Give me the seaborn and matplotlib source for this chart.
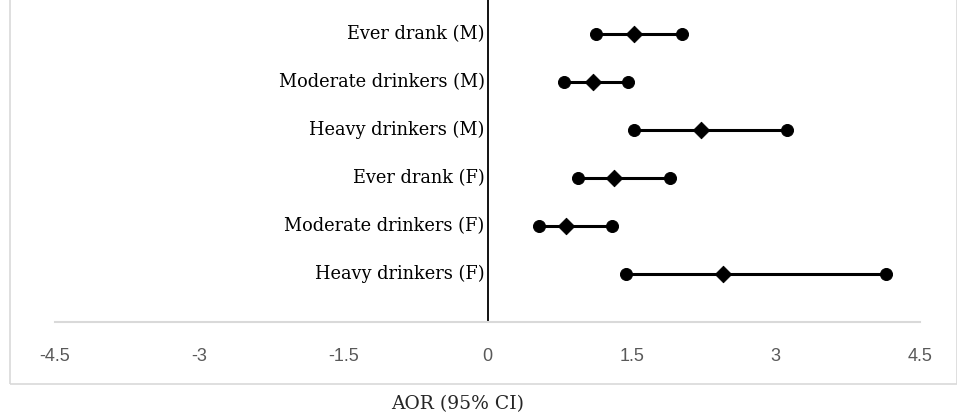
import pandas as pd
import matplotlib.pyplot as plt
import seaborn as sns
from matplotlib.patches import Rectangle

# Values
labels = ["Ever drank (M)", "Moderate drinkers (M)", "Heavy drinkers (M)",
          "Ever drank (F)", "Moderate drinkers (F)", "Heavy drinkers (F)"]
aor = [1.52, 1.10, 2.22, 1.32, 0.82, 2.45]
ci_low = [1.13, 0.80, 1.52, 0.94, 0.54, 1.44]
ci_high = [2.02, 1.46, 3.12, 1.90, 1.30, 4.15]
rows = [6, 5, 4, 3, 2, 1]
xticks = [-4.5, -3, -1.5, 0, 1.5, 3, 4.5]

sns.set_style("white")

# long table for lines and points
df = pd.DataFrame({"label": labels, "row": rows, "aor": aor, "low": ci_low, "high": ci_high})
ci = df.melt(id_vars=["label", "row"], value_vars=["low", "high"], var_name="kind", value_name="x")
pt = df.rename(columns={"aor": "x"})[["label", "row", "x"]]

fig = plt.figure(figsize=(9.57, 4.16), dpi=100)
ax = fig.add_axes([55 / 957, 94 / 416, 865 / 957, 322 / 416])

sns.lineplot(data=ci, x="x", y="row", units="label", estimator=None, sort=True,
             color="black", linewidth=2.2, ax=ax, legend=False)
sns.scatterplot(data=ci, x="x", y="row", marker="o", s=75, color="black",
                edgecolor="black", ax=ax, legend=False, zorder=3)
sns.scatterplot(data=pt, x="x", y="row", marker="D", s=70, color="black",
                edgecolor="black", ax=ax, legend=False, zorder=3)

ax.set_xlim(-4.5, 4.5)
ax.set_ylim(0, 6.7)
ax.axvline(0, color="black", linewidth=1.3, zorder=1)

for lab, r in zip(labels, rows):
    ax.text(-0.03, r, lab, ha="right", va="center", fontsize=12.8,
            family="DejaVu Serif", color="black")

ax.set_xticks(xticks)
ax.set_xticklabels([f"{t:g}" for t in xticks], family="Liberation Sans",
                   fontsize=13, color="#595959")
ax.tick_params(axis="x", length=0, pad=19)
ax.set_yticks([])
ax.set_xlabel("")
ax.set_ylabel("")
for side in ["top", "left", "right"]:
    ax.spines[side].set_visible(False)
ax.spines["bottom"].set_color("#d9d9d9")
ax.spines["bottom"].set_linewidth(1.5)

fig.text(458 / 957, 1 - 404 / 416, "AOR (95% CI)", ha="center", va="center",
         fontsize=13.5, family="DejaVu Serif")

fig.patches.append(Rectangle((10 / 957, 1 - 384 / 416), 1 - 10 / 957, 384 / 416 + 0.01,
                             transform=fig.transFigure, fill=False,
                             edgecolor="#d9d9d9", linewidth=1.2))

fig.savefig("out.png", dpi=100)
